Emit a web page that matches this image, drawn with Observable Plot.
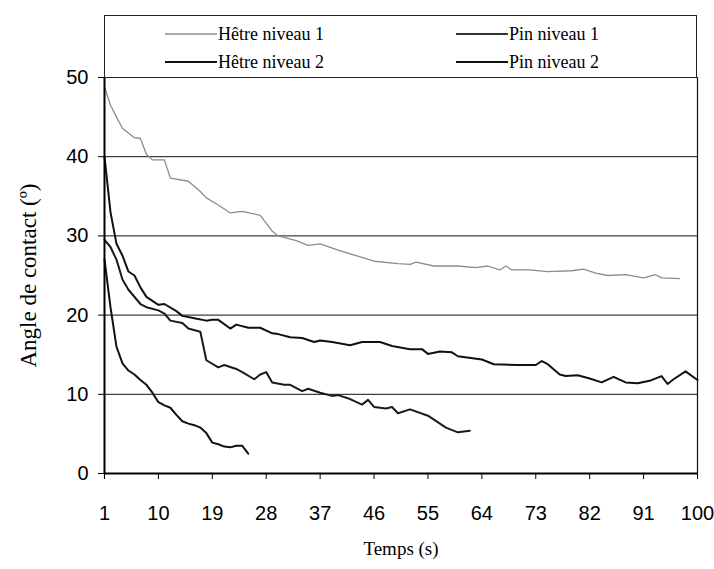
<!DOCTYPE html>
<html>
<head>
<meta charset="utf-8">
<script src="https://cdn.jsdelivr.net/npm/d3@7"></script>
<script src="https://cdn.jsdelivr.net/npm/@observablehq/plot@0.6"></script>
<style>
  body { margin: 0; background: #fff; }
  #wrap { position: relative; width: 714px; height: 569px; }
  #legend { position: absolute; left: 104px; top: 15px; width: 593px; height: 63px;
    border: 1px solid #222; box-sizing: border-box; background: #fff;
    font-family: "Liberation Serif", "Times New Roman", "DejaVu Serif", serif; font-size: 18px; color: #000; }
  .item { position: absolute; display: flex; align-items: center; height: 20px; white-space: nowrap; }
  .item svg { margin-right: 1px; }
</style>
</head>
<body>
<div id="wrap"></div>
<script>
// Series names (legend order)
const seriesNames = ["Hêtre niveau 1", "Pin niveau 1", "Hêtre niveau 2", "Pin niveau 2"];

// Hêtre niveau 1 (grey thin line)
const hetre1Time = [1,2,3,4,6,7,8,9,11,12,15,17,18,20,22,24,27,29,30,33,35,37,40,43,46,50,52,53,56,60,63,65,67,68,69,72,75,79,81,83,85,88,91,93,94,97];
const hetre1Angle = [48.8,46.5,45,43.6,42.4,42.3,40.3,39.6,39.6,37.3,36.9,35.6,34.8,33.9,32.9,33.1,32.6,30.6,30,29.4,28.8,29,28.2,27.5,26.8,26.5,26.4,26.7,26.2,26.2,26,26.2,25.7,26.2,25.7,25.7,25.5,25.6,25.8,25.3,25,25.1,24.7,25.1,24.7,24.6];

// Hêtre niveau 2 (long black line)
const hetre2Time = [1,2,3,4,5,6,7,8,9,10,11,13,14,16,18,19,20,22,23,25,27,29,30,32,34,36,37,39,42,44,47,49,52,54,55,57,59,60,64,66,70,73,74,75,77,78,80,82,84,86,88,90,92,94,95,96,98,100];
const hetre2Angle = [40,33,29,27.5,25.5,25,23.5,22.3,21.8,21.3,21.4,20.5,19.9,19.6,19.3,19.4,19.4,18.3,18.8,18.4,18.4,17.7,17.6,17.2,17.1,16.6,16.8,16.6,16.2,16.6,16.6,16.1,15.7,15.7,15.1,15.4,15.3,14.8,14.4,13.8,13.7,13.7,14.2,13.8,12.5,12.3,12.4,12,11.5,12.2,11.5,11.4,11.7,12.3,11.3,11.9,12.9,11.8];

// Pin niveau 1 (middle black line)
const pin1Time = [1,2,3,4,5,7,8,10,11,12,14,15,17,18,20,21,23,24,26,27,28,29,31,32,34,35,37,39,40,42,44,45,46,48,49,50,52,55,57,58,60,62];
const pin1Angle = [29.5,28.6,27,24.5,23.2,21.4,21,20.6,20.2,19.3,19,18.3,17.9,14.3,13.4,13.7,13.2,12.8,11.9,12.5,12.8,11.5,11.2,11.2,10.4,10.7,10.2,9.8,9.9,9.4,8.7,9.3,8.4,8.2,8.4,7.6,8.1,7.3,6.3,5.8,5.2,5.4];

// Pin niveau 2 (short black line)
const pin2Time = [1,2,3,4,5,6,7,8,9,10,11,12,13,14,15,16,17,18,19,20,21,22,23,24,25];
const pin2Angle = [27,21,16,13.9,13,12.5,11.8,11.2,10.2,9,8.6,8.3,7.4,6.6,6.3,6.1,5.8,5.1,3.9,3.7,3.4,3.3,3.5,3.5,2.5];

// Axis ticks
const xTicks = [1,10,19,28,37,46,55,64,73,82,91,100];
const yTicks = [0,10,20,30,40,50];
const gridTicks = [10,20,30,40,50];

const xTitle = "Temps (s)";
const yTitle = "Angle de contact (º)";

const toRows = (times, vals) => times.map((t, i) => ({t, v: vals[i]}));
const hetre1 = toRows(hetre1Time, hetre1Angle);
const hetre2 = toRows(hetre2Time, hetre2Angle);
const pin1 = toRows(pin1Time, pin1Angle);
const pin2 = toRows(pin2Time, pin2Angle);

const serif = "'Liberation Serif', 'Times New Roman', 'DejaVu Serif', serif";

const chart = Plot.plot({
  width: 714,
  height: 569,
  marginLeft: 104,
  marginRight: 17,
  marginTop: 77,
  marginBottom: 96,
  x: {domain: [1, 100]},
  y: {domain: [0, 50]},
  style: {background: "#fff", color: "#000", fontFamily: "'Liberation Sans', Arial, sans-serif", fontSize: "20px"},
  marks: [
    Plot.gridY(gridTicks, {stroke: "#111", strokeOpacity: 1, strokeWidth: 1}),
    Plot.ruleX([100], {stroke: "#111", strokeWidth: 1.2}),
    Plot.line(hetre1, {x: "t", y: "v", stroke: "#8c8c8c", strokeWidth: 1.3}),
    Plot.line(hetre2, {x: "t", y: "v", stroke: "#111", strokeWidth: 2}),
    Plot.line(pin1, {x: "t", y: "v", stroke: "#1a1a1a", strokeWidth: 2}),
    Plot.line(pin2, {x: "t", y: "v", stroke: "#111", strokeWidth: 2}),
    Plot.ruleY([0], {stroke: "#000", strokeWidth: 2}),
    Plot.ruleX([1], {stroke: "#000", strokeWidth: 2}),
    Plot.axisY(yTicks, {tickSize: 6, tickPadding: 10, label: null, fontSize: 20, tickFormat: d => String(d)}),
    Plot.axisX(xTicks, {tickSize: 6, tickPadding: 26, label: null, fontSize: 20, tickFormat: d => String(d)}),
    Plot.text([xTitle], {frameAnchor: "bottom", dy: 81, text: d => d, fontFamily: serif, fontSize: 19}),
    Plot.text([yTitle], {frameAnchor: "left", dx: -76, rotate: -90, textAnchor: "middle", text: d => d, fontFamily: serif, fontSize: 23})
  ]
});

const wrap = document.getElementById("wrap");
wrap.appendChild(chart);

// Legend box (HTML, drawn above the plot area)
const legend = document.createElement("div");
legend.id = "legend";
const legendPos = [
  {left: 60, top: 8, color: "#8c8c8c", w: 1.3},
  {left: 351, top: 8, color: "#333", w: 1.8},
  {left: 60, top: 36, color: "#111", w: 2},
  {left: 351, top: 36, color: "#111", w: 2}
];
seriesNames.forEach((name, i) => {
  const p = legendPos[i];
  const item = document.createElement("div");
  item.className = "item";
  item.style.left = p.left + "px";
  item.style.top = p.top + "px";
  item.innerHTML = `<svg width="52" height="20"><line x1="0" x2="52" y1="10" y2="10" stroke="${p.color}" stroke-width="${p.w}"/></svg><span>${name}</span>`;
  legend.appendChild(item);
});
wrap.appendChild(legend);
</script>
</body>
</html>
